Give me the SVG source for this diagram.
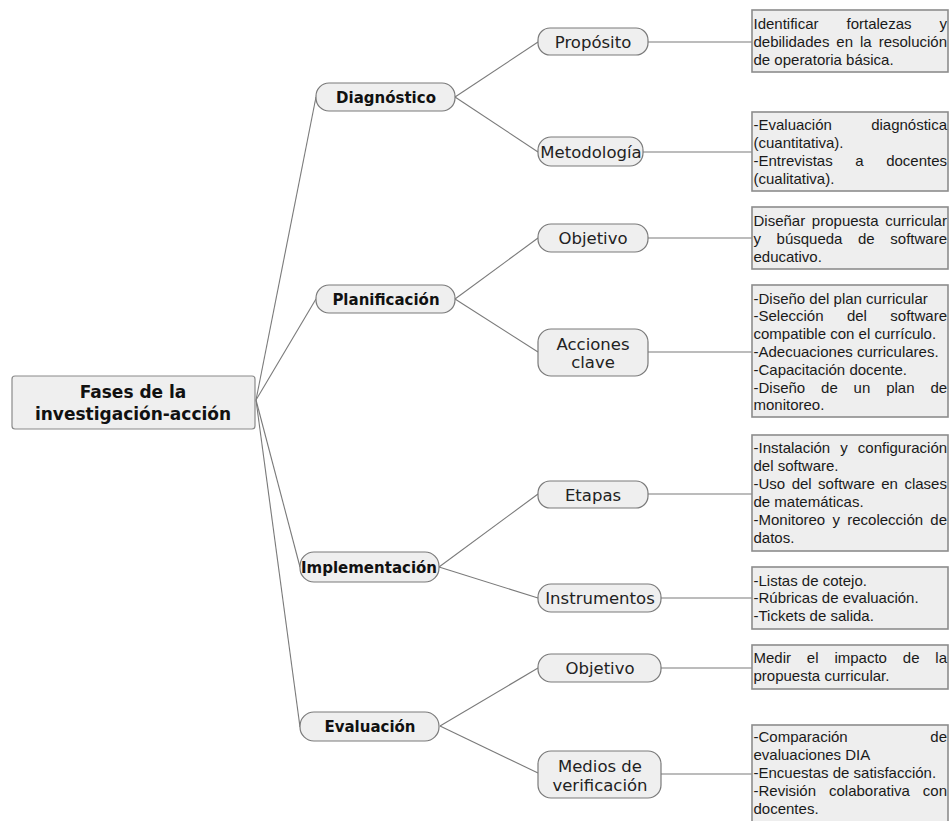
<svg xmlns="http://www.w3.org/2000/svg" width="950" height="821" viewBox="0 0 950 821">
<style>
.bg{fill:#ffffff}
.root{fill:#efefef;stroke:#8a8a8a;stroke-width:1.2}
.phase{fill:#efefef;stroke:#7a7a7a;stroke-width:1.2}
.sub{fill:#efefef;stroke:#7a7a7a;stroke-width:1.2}
.box{fill:#eeeeee;stroke:#8c8c8c;stroke-width:1.6}
.conn line{stroke:#7a7a7a;stroke-width:1.1;fill:none}
.rt{font-family:"DejaVu Sans",sans-serif;font-weight:bold;font-size:17px;fill:#111;text-anchor:middle}
.pt{font-family:"DejaVu Sans",sans-serif;font-weight:bold;font-size:15px;fill:#111;text-anchor:middle}
.st{font-family:"DejaVu Sans",sans-serif;font-size:16.5px;fill:#222;text-anchor:middle}
.bt{font-family:"Liberation Sans",Arial,sans-serif;font-size:15px;fill:#1a1a1a}
</style>
<rect class="bg" x="0" y="0" width="950" height="821"/>

<g id="connectors" class="conn">
<line x1="256" y1="400" x2="316" y2="97"/>
<line x1="256" y1="400" x2="316" y2="299"/>
<line x1="256" y1="400" x2="300" y2="567"/>
<line x1="256" y1="400" x2="300" y2="727"/>
<line x1="455" y1="97" x2="538" y2="42"/>
<line x1="455" y1="97" x2="538" y2="152"/>
<line x1="455" y1="299" x2="538" y2="238"/>
<line x1="455" y1="299" x2="538" y2="352"/>
<line x1="439" y1="567" x2="538" y2="494"/>
<line x1="439" y1="567" x2="538" y2="598"/>
<line x1="440" y1="726" x2="538" y2="668"/>
<line x1="440" y1="726" x2="538" y2="773"/>
<line x1="648" y1="42" x2="752" y2="42"/>
<line x1="643" y1="152" x2="752" y2="152"/>
<line x1="648" y1="238" x2="752" y2="238"/>
<line x1="648" y1="352" x2="752" y2="352"/>
<line x1="648" y1="494" x2="752" y2="494"/>
<line x1="661" y1="598" x2="752" y2="598"/>
<line x1="661" y1="668" x2="752" y2="668"/>
<line x1="661" y1="774" x2="752" y2="774"/>
</g>

<g id="root">
<rect class="root" x="12" y="376" width="243" height="53" rx="3"/>
<text class="rt" x="133" y="398">Fases de la</text>
<text class="rt" x="133" y="420">investigación-acción</text>
</g>

<g id="diagnostico">
<rect class="phase" x="316" y="83" width="139" height="28" rx="13"/>
<text class="pt" x="386" y="102.5">Diagnóstico</text>
</g>
<g id="planificacion">
<rect class="phase" x="316" y="285" width="139" height="28" rx="13"/>
<text class="pt" x="386" y="304.5">Planificación</text>
</g>
<g id="implementacion">
<rect class="phase" x="300" y="552" width="139" height="30" rx="14"/>
<text class="pt" x="369" y="572.5">Implementación</text>
</g>
<g id="evaluacion">
<rect class="phase" x="300" y="712" width="139" height="29" rx="14"/>
<text class="pt" x="370" y="732">Evaluación</text>
</g>

<g id="proposito">
<rect class="sub" x="538" y="28" width="110" height="27" rx="12"/>
<text class="st" x="593" y="48">Propósito</text>
</g>
<g id="metodologia">
<rect class="sub" x="538" y="137" width="105" height="29" rx="13"/>
<text class="st" x="591" y="158">Metodología</text>
</g>
<g id="objetivo-plan">
<rect class="sub" x="538" y="224" width="110" height="28" rx="13"/>
<text class="st" x="593" y="244">Objetivo</text>
</g>
<g id="acciones-clave">
<rect class="sub" x="538" y="329" width="110" height="47" rx="13"/>
<text class="st" x="593" y="350">Acciones</text>
<text class="st" x="593" y="367.5">clave</text>
</g>
<g id="etapas">
<rect class="sub" x="538" y="481" width="110" height="27" rx="12"/>
<text class="st" x="593" y="500.5">Etapas</text>
</g>
<g id="instrumentos">
<rect class="sub" x="538" y="584" width="123" height="28" rx="13"/>
<text class="st" x="600" y="604">Instrumentos</text>
</g>
<g id="objetivo-eval">
<rect class="sub" x="538" y="654" width="123" height="28" rx="13"/>
<text class="st" x="600" y="674">Objetivo</text>
</g>
<g id="medios">
<rect class="sub" x="538" y="751" width="123" height="47" rx="13"/>
<text class="st" x="600" y="771.5">Medios de</text>
<text class="st" x="600" y="790.5">verificación</text>
</g>

<g id="box-proposito">
<rect class="box" x="752" y="10" width="196" height="62"/>
<text class="bt" x="753.5" y="28.5" word-spacing="23.8">Identificar fortalezas y</text>
<text class="bt" x="753.5" y="46.8" word-spacing="2.8">debilidades en la resolución</text>
<text class="bt" x="753.5" y="65.1">de operatoria básica.</text>
</g>
<g id="box-metodologia">
<rect class="box" x="752" y="112" width="196" height="79"/>
<text class="bt" x="753.5" y="129.5" word-spacing="35.1">-Evaluación diagnóstica</text>
<text class="bt" x="753.5" y="147.8">(cuantitativa).</text>
<text class="bt" x="753.5" y="166.1" word-spacing="18.4">-Entrevistas a docentes</text>
<text class="bt" x="753.5" y="184.4">(cualitativa).</text>
</g>
<g id="box-objetivo-plan">
<rect class="box" x="752" y="207" width="196" height="62"/>
<text class="bt" x="753.5" y="225.5" word-spacing="2.5">Diseñar propuesta curricular</text>
<text class="bt" x="753.5" y="243.8" word-spacing="11.4">y búsqueda de software</text>
<text class="bt" x="753.5" y="262.1">educativo.</text>
</g>
<g id="box-acciones">
<rect class="box" x="752" y="285" width="196" height="132"/>
<text class="bt" x="753.5" y="303.5">-Diseño del plan curricular</text>
<text class="bt" x="753.5" y="321.3" word-spacing="19.2">-Selección del software</text>
<text class="bt" x="753.5" y="339.1">compatible con el currículo.</text>
<text class="bt" x="753.5" y="357">-Adecuaciones curriculares.</text>
<text class="bt" x="753.5" y="374.8">-Capacitación docente.</text>
<text class="bt" x="753.5" y="392.6" word-spacing="11.7">-Diseño de un plan de</text>
<text class="bt" x="753.5" y="410.4">monitoreo.</text>
</g>
<g id="box-etapas">
<rect class="box" x="752" y="435" width="196" height="116"/>
<text class="bt" x="753.5" y="452.8" word-spacing="5.9">-Instalación y configuración</text>
<text class="bt" x="753.5" y="470.8">del software.</text>
<text class="bt" x="753.5" y="488.8" word-spacing="2.3">-Uso del software en clases</text>
<text class="bt" x="753.5" y="506.8">de matemáticas.</text>
<text class="bt" x="753.5" y="524.8" word-spacing="3.1">-Monitoreo y recolección de</text>
<text class="bt" x="753.5" y="542.8">datos.</text>
</g>
<g id="box-instrumentos">
<rect class="box" x="752" y="567" width="196" height="62"/>
<text class="bt" x="753.5" y="585.5">-Listas de cotejo.</text>
<text class="bt" x="753.5" y="603.3">-Rúbricas de evaluación.</text>
<text class="bt" x="753.5" y="621.1">-Tickets de salida.</text>
</g>
<g id="box-objetivo-eval">
<rect class="box" x="752" y="645" width="196" height="44"/>
<text class="bt" x="753.5" y="662.8" word-spacing="11.7">Medir el impacto de la</text>
<text class="bt" x="753.5" y="681.1">propuesta curricular.</text>
</g>
<g id="box-medios">
<rect class="box" x="752" y="725" width="196" height="105"/>
<text class="bt" x="753.5" y="741.7" word-spacing="78.5">-Comparación de</text>
<text class="bt" x="753.5" y="759.6">evaluaciones DIA</text>
<text class="bt" x="753.5" y="777.6">-Encuestas de satisfacción.</text>
<text class="bt" x="753.5" y="795.6" word-spacing="8.8">-Revisión colaborativa con</text>
<text class="bt" x="753.5" y="813.6">docentes.</text>
</g>
</svg>
